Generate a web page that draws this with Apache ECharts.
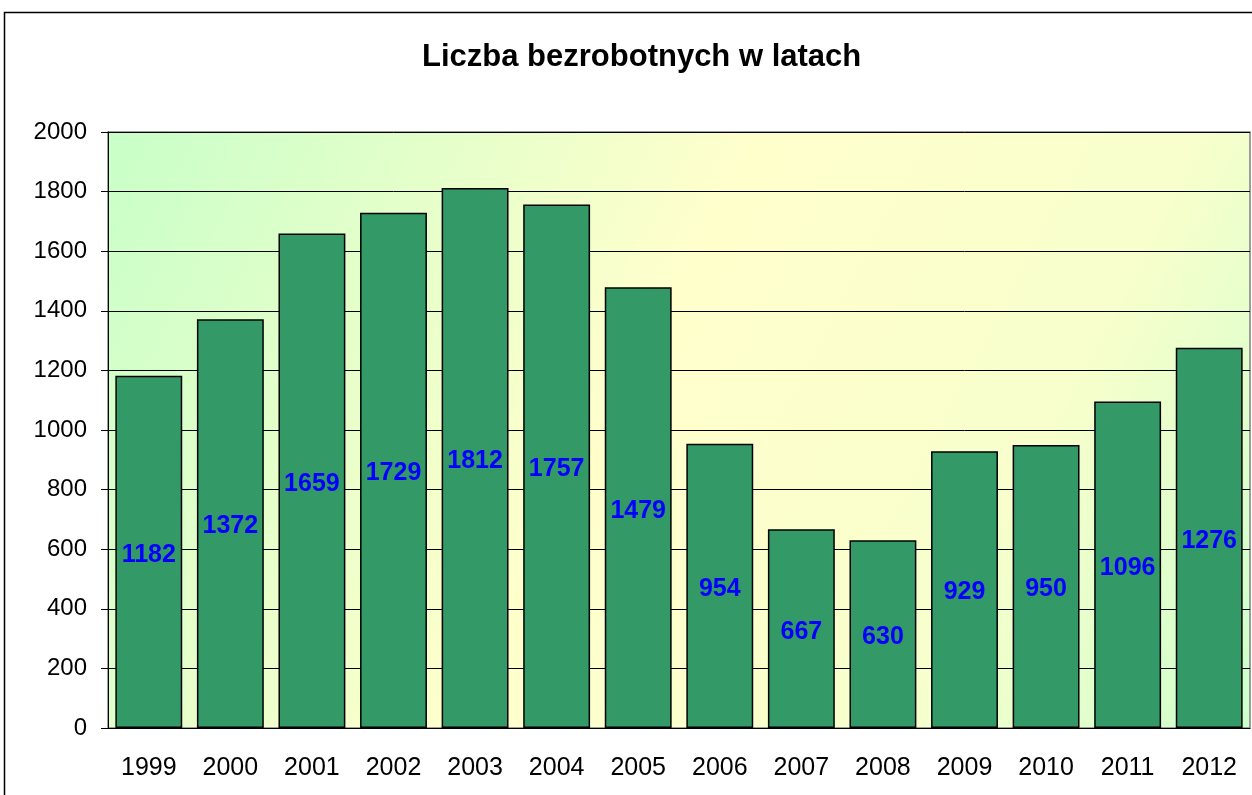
<!DOCTYPE html>
<html>
<head>
<meta charset="utf-8">
<script src="https://cdn.jsdelivr.net/npm/echarts@6/dist/echarts.min.js"></script>
<style>
  html, body { margin: 0; padding: 0; background: #fff; }
  #chart { width: 1252px; height: 795px; }
</style>
</head>
<body>
<div id="chart"></div>
<script>
// dane z wykresu
const lata = ['1999', '2000', '2001', '2002', '2003', '2004', '2005', '2006', '2007', '2008', '2009', '2010', '2011', '2012'];
const bezrobotni = [1182, 1372, 1659, 1729, 1812, 1757, 1479, 954, 667, 630, 929, 950, 1096, 1276];
const osY = { min: 0, max: 2000, interval: 200 };

const font = 'Arial, "Liberation Sans", sans-serif';

let myChart = echarts.init(document.getElementById('chart'));
myChart.setOption({
  animation: false,
  title: {
    text: 'Liczba bezrobotnych w latach',
    left: 417,
    top: 37,
    textStyle: { fontFamily: font, fontSize: 31, fontWeight: 'bold', color: '#000' }
  },
  graphic: [
    { // ramka wykresu
      type: 'rect',
      shape: { x: 4.5, y: 12.5, width: 1300, height: 900 },
      style: { fill: 'none', stroke: '#000', lineWidth: 1.5 },
      z: -10
    }
  ],
  grid: {
    left: 108,
    right: 2,
    top: 132,
    bottom: 67,
    show: true,
    borderColor: '#808080',
    borderWidth: 1.5,
    backgroundColor: new echarts.graphic.LinearGradient(0, 0, 1, 1, [
      { offset: 0, color: '#c8ffc8' },
      { offset: 0.45, color: '#ffffcc' },
      { offset: 0.75, color: '#f8ffcc' },
      { offset: 1, color: '#ccffcc' }
    ])
  },
  xAxis: {
    type: 'category',
    data: lata,
    axisLine: { lineStyle: { color: '#000', width: 1 } },
    axisTick: { length: 7, lineStyle: { color: '#000' } },
    axisLabel: { fontFamily: font, fontSize: 25, color: '#000', margin: 28 }
  },
  yAxis: {
    type: 'value',
    min: osY.min,
    max: osY.max,
    interval: osY.interval,
    axisLine: { show: true, lineStyle: { color: '#000', width: 1 } },
    axisTick: { show: true, length: 7, lineStyle: { color: '#000' } },
    axisLabel: { fontFamily: font, fontSize: 24, color: '#000', margin: 21, formatter: v => String(v) },
    splitLine: { lineStyle: { color: '#000', width: 1 } }
  },
  series: [
    {
      type: 'bar',
      data: bezrobotni,
      barCategoryGap: '18%',
      itemStyle: { color: '#339966', borderColor: '#000', borderWidth: 1.5 },
      label: {
        show: true,
        position: 'inside',
        offset: [0, 3],
        color: '#0000ff',
        fontFamily: font,
        fontSize: 25,
        fontWeight: 'bold'
      }
    }
  ]
});
</script>
</body>
</html>
